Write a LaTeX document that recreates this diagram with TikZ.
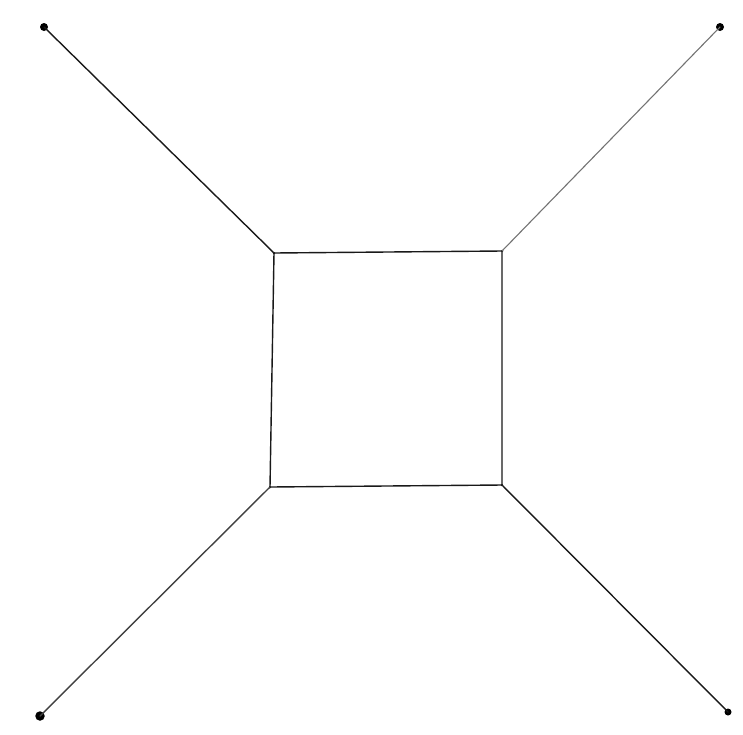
\documentclass[tikz,border=0pt]{standalone}
\begin{document}
\begin{tikzpicture}[x=1pt,y=-1pt,
  edge/.style={draw=black!90,line width=1.4pt,line cap=round},
  enddot/.style={circle,fill=black,inner sep=0pt,minimum size=8pt},
  corner/.style={circle,fill=black,inner sep=0pt,minimum size=2.5pt}]
\useasboundingbox (0,0) rectangle (743,734);
\node[corner] (a) at (274,253) {};
\node[corner] (b) at (502,251) {};
\node[corner] (c) at (502,485) {};
\node[corner] (d) at (270,487) {};
\node[enddot] (p) at (44,27) {};
\node[enddot] (q) at (720,27) {};
\node[enddot,minimum size=7pt] (r) at (728,712) {};
\node[enddot,minimum size=9.5pt] (s) at (40,716) {};
\draw[edge] (a.center) -- (b.center) -- (c.center) -- (d.center) -- cycle;
\draw[edge] (a.center) -- (p.center);
\draw[edge,draw=black!55,line width=1.1pt] (b.center) -- (q.center);
\draw[edge] (c.center) -- (r.center);
\draw[edge,draw=black!75] (d.center) -- (s.center);
\end{tikzpicture}
\end{document}
